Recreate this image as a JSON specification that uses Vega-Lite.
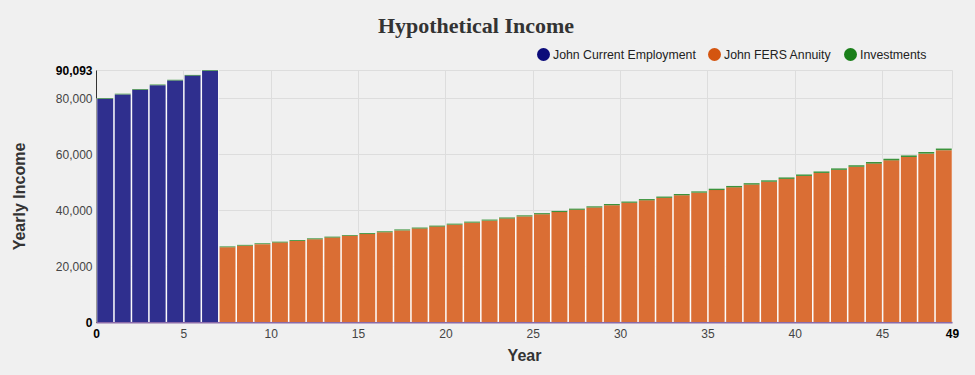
{
  "$schema": "https://vega.github.io/schema/vega-lite/v6.json",
  "width": 856,
  "height": 252,
  "autosize": {"type": "none"},
  "padding": {"left": 96, "top": 70, "right": 23, "bottom": 53},
  "background": "#f0f0f0",
  "config": {"view": {"stroke": null}},
  "title": {"text": "Hypothetical Income", "font": "Liberation Serif", "fontSize": 22, "fontWeight": "bold", "color": "#333333", "anchor": "middle", "frame": "group", "dx": -48, "offset": 10},
  "data": {"values": [
    {"year": 0, "end": 1, "series": "John Current Employment", "value": 79780, "k": 1},
    {"year": 0, "end": 1, "series": "Investments", "value": 250, "k": 3},
    {"year": 1, "end": 2, "series": "John Current Employment", "value": 81376, "k": 1},
    {"year": 1, "end": 2, "series": "Investments", "value": 250, "k": 3},
    {"year": 2, "end": 3, "series": "John Current Employment", "value": 83003, "k": 1},
    {"year": 2, "end": 3, "series": "Investments", "value": 250, "k": 3},
    {"year": 3, "end": 4, "series": "John Current Employment", "value": 84663, "k": 1},
    {"year": 3, "end": 4, "series": "Investments", "value": 250, "k": 3},
    {"year": 4, "end": 5, "series": "John Current Employment", "value": 86356, "k": 1},
    {"year": 4, "end": 5, "series": "Investments", "value": 250, "k": 3},
    {"year": 5, "end": 6, "series": "John Current Employment", "value": 88084, "k": 1},
    {"year": 5, "end": 6, "series": "Investments", "value": 250, "k": 3},
    {"year": 6, "end": 7, "series": "John Current Employment", "value": 89843, "k": 1},
    {"year": 6, "end": 7, "series": "Investments", "value": 250, "k": 3},
    {"year": 7, "end": 8, "series": "John FERS Annuity", "value": 26730, "k": 2},
    {"year": 7, "end": 8, "series": "Investments", "value": 300, "k": 3},
    {"year": 8, "end": 9, "series": "John FERS Annuity", "value": 27278, "k": 2},
    {"year": 8, "end": 9, "series": "Investments", "value": 305, "k": 3},
    {"year": 9, "end": 10, "series": "John FERS Annuity", "value": 27837, "k": 2},
    {"year": 9, "end": 10, "series": "Investments", "value": 310, "k": 3},
    {"year": 10, "end": 11, "series": "John FERS Annuity", "value": 28408, "k": 2},
    {"year": 10, "end": 11, "series": "Investments", "value": 315, "k": 3},
    {"year": 11, "end": 12, "series": "John FERS Annuity", "value": 28990, "k": 2},
    {"year": 11, "end": 12, "series": "Investments", "value": 320, "k": 3},
    {"year": 12, "end": 13, "series": "John FERS Annuity", "value": 29585, "k": 2},
    {"year": 12, "end": 13, "series": "Investments", "value": 326, "k": 3},
    {"year": 13, "end": 14, "series": "John FERS Annuity", "value": 30191, "k": 2},
    {"year": 13, "end": 14, "series": "Investments", "value": 331, "k": 3},
    {"year": 14, "end": 15, "series": "John FERS Annuity", "value": 30810, "k": 2},
    {"year": 14, "end": 15, "series": "Investments", "value": 337, "k": 3},
    {"year": 15, "end": 16, "series": "John FERS Annuity", "value": 31441, "k": 2},
    {"year": 15, "end": 16, "series": "Investments", "value": 343, "k": 3},
    {"year": 16, "end": 17, "series": "John FERS Annuity", "value": 32086, "k": 2},
    {"year": 16, "end": 17, "series": "Investments", "value": 349, "k": 3},
    {"year": 17, "end": 18, "series": "John FERS Annuity", "value": 32744, "k": 2},
    {"year": 17, "end": 18, "series": "Investments", "value": 355, "k": 3},
    {"year": 18, "end": 19, "series": "John FERS Annuity", "value": 33415, "k": 2},
    {"year": 18, "end": 19, "series": "Investments", "value": 361, "k": 3},
    {"year": 19, "end": 20, "series": "John FERS Annuity", "value": 34100, "k": 2},
    {"year": 19, "end": 20, "series": "Investments", "value": 367, "k": 3},
    {"year": 20, "end": 21, "series": "John FERS Annuity", "value": 34799, "k": 2},
    {"year": 20, "end": 21, "series": "Investments", "value": 373, "k": 3},
    {"year": 21, "end": 22, "series": "John FERS Annuity", "value": 35512, "k": 2},
    {"year": 21, "end": 22, "series": "Investments", "value": 380, "k": 3},
    {"year": 22, "end": 23, "series": "John FERS Annuity", "value": 36241, "k": 2},
    {"year": 22, "end": 23, "series": "Investments", "value": 386, "k": 3},
    {"year": 23, "end": 24, "series": "John FERS Annuity", "value": 36983, "k": 2},
    {"year": 23, "end": 24, "series": "Investments", "value": 393, "k": 3},
    {"year": 24, "end": 25, "series": "John FERS Annuity", "value": 37741, "k": 2},
    {"year": 24, "end": 25, "series": "Investments", "value": 400, "k": 3},
    {"year": 25, "end": 26, "series": "John FERS Annuity", "value": 38515, "k": 2},
    {"year": 25, "end": 26, "series": "Investments", "value": 406, "k": 3},
    {"year": 26, "end": 27, "series": "John FERS Annuity", "value": 39305, "k": 2},
    {"year": 26, "end": 27, "series": "Investments", "value": 413, "k": 3},
    {"year": 27, "end": 28, "series": "John FERS Annuity", "value": 40111, "k": 2},
    {"year": 27, "end": 28, "series": "Investments", "value": 420, "k": 3},
    {"year": 28, "end": 29, "series": "John FERS Annuity", "value": 40933, "k": 2},
    {"year": 28, "end": 29, "series": "Investments", "value": 428, "k": 3},
    {"year": 29, "end": 30, "series": "John FERS Annuity", "value": 41772, "k": 2},
    {"year": 29, "end": 30, "series": "Investments", "value": 435, "k": 3},
    {"year": 30, "end": 31, "series": "John FERS Annuity", "value": 42628, "k": 2},
    {"year": 30, "end": 31, "series": "Investments", "value": 442, "k": 3},
    {"year": 31, "end": 32, "series": "John FERS Annuity", "value": 43502, "k": 2},
    {"year": 31, "end": 32, "series": "Investments", "value": 450, "k": 3},
    {"year": 32, "end": 33, "series": "John FERS Annuity", "value": 44394, "k": 2},
    {"year": 32, "end": 33, "series": "Investments", "value": 458, "k": 3},
    {"year": 33, "end": 34, "series": "John FERS Annuity", "value": 45304, "k": 2},
    {"year": 33, "end": 34, "series": "Investments", "value": 466, "k": 3},
    {"year": 34, "end": 35, "series": "John FERS Annuity", "value": 46233, "k": 2},
    {"year": 34, "end": 35, "series": "Investments", "value": 474, "k": 3},
    {"year": 35, "end": 36, "series": "John FERS Annuity", "value": 47180, "k": 2},
    {"year": 35, "end": 36, "series": "Investments", "value": 482, "k": 3},
    {"year": 36, "end": 37, "series": "John FERS Annuity", "value": 48148, "k": 2},
    {"year": 36, "end": 37, "series": "Investments", "value": 490, "k": 3},
    {"year": 37, "end": 38, "series": "John FERS Annuity", "value": 49134, "k": 2},
    {"year": 37, "end": 38, "series": "Investments", "value": 499, "k": 3},
    {"year": 38, "end": 39, "series": "John FERS Annuity", "value": 50142, "k": 2},
    {"year": 38, "end": 39, "series": "Investments", "value": 507, "k": 3},
    {"year": 39, "end": 40, "series": "John FERS Annuity", "value": 51170, "k": 2},
    {"year": 39, "end": 40, "series": "Investments", "value": 516, "k": 3},
    {"year": 40, "end": 41, "series": "John FERS Annuity", "value": 52219, "k": 2},
    {"year": 40, "end": 41, "series": "Investments", "value": 525, "k": 3},
    {"year": 41, "end": 42, "series": "John FERS Annuity", "value": 53289, "k": 2},
    {"year": 41, "end": 42, "series": "Investments", "value": 534, "k": 3},
    {"year": 42, "end": 43, "series": "John FERS Annuity", "value": 54382, "k": 2},
    {"year": 42, "end": 43, "series": "Investments", "value": 543, "k": 3},
    {"year": 43, "end": 44, "series": "John FERS Annuity", "value": 55497, "k": 2},
    {"year": 43, "end": 44, "series": "Investments", "value": 552, "k": 3},
    {"year": 44, "end": 45, "series": "John FERS Annuity", "value": 56634, "k": 2},
    {"year": 44, "end": 45, "series": "Investments", "value": 562, "k": 3},
    {"year": 45, "end": 46, "series": "John FERS Annuity", "value": 57795, "k": 2},
    {"year": 45, "end": 46, "series": "Investments", "value": 572, "k": 3},
    {"year": 46, "end": 47, "series": "John FERS Annuity", "value": 58980, "k": 2},
    {"year": 46, "end": 47, "series": "Investments", "value": 581, "k": 3},
    {"year": 47, "end": 48, "series": "John FERS Annuity", "value": 60189, "k": 2},
    {"year": 47, "end": 48, "series": "Investments", "value": 591, "k": 3},
    {"year": 48, "end": 49, "series": "John FERS Annuity", "value": 61423, "k": 2},
    {"year": 48, "end": 49, "series": "Investments", "value": 600, "k": 3}
  ]},
  "encoding": {
    "x": {
      "field": "year", "type": "quantitative", "bin": "binned",
      "scale": {"domain": [0, 49], "nice": false},
      "axis": {
        "values": [0, 5, 10, 15, 20, 25, 30, 35, 40, 45, 49],
        "format": "d",
        "title": "Year",
        "titleFont": "Liberation Sans", "titleFontSize": 16, "titleFontWeight": "bold", "titleColor": "#333333", "titlePadding": 8,
        "labelFont": "Liberation Sans", "labelFontSize": 12, "labelPadding": 6, "labelFlush": false,
        "labelColor": {"condition": {"test": "datum.value == 0 || datum.value == 49", "value": "#000000"}, "value": "#444444"},
        "labelFontWeight": {"condition": {"test": "datum.value == 0 || datum.value == 49", "value": "bold"}, "value": "normal"},
        "ticks": false,
        "grid": true, "gridColor": "#dddddd",
        "domain": true, "domainColor": "#8a6aa8", "domainWidth": 2
      }
    },
    "x2": {"field": "end"}
  },
  "layer": [
    {
      "mark": {"type": "bar", "color": "#ffffff", "binSpacing": 0},
      "encoding": {
        "y": {
          "aggregate": "sum", "field": "value", "type": "quantitative",
          "scale": {"domain": [0, 90093], "nice": false},
          "axis": {
            "values": [0, 20000, 40000, 60000, 80000, 90093],
            "format": ",d",
            "title": "Yearly Income",
            "titleFont": "Liberation Sans", "titleFontSize": 16, "titleFontWeight": "bold", "titleColor": "#333333", "titlePadding": 28,
            "labelFont": "Liberation Sans", "labelFontSize": 12, "labelPadding": 4,
            "labelColor": {"condition": {"test": "datum.value == 0 || datum.value == 90093", "value": "#000000"}, "value": "#444444"},
            "labelFontWeight": {"condition": {"test": "datum.value == 0 || datum.value == 90093", "value": "bold"}, "value": "normal"},
            "ticks": false,
            "grid": true, "gridColor": "#dddddd",
            "domain": true, "domainColor": "#333333", "domainWidth": 1
          }
        }
      }
    },
    {
      "mark": {"type": "bar", "opacity": 0.85, "binSpacing": 1.5},
      "encoding": {
        "y": {
          "field": "value", "type": "quantitative", "stack": "zero",
          "scale": {"domain": [0, 90093], "nice": false},
          "axis": {
            "values": [0, 20000, 40000, 60000, 80000, 90093],
            "format": ",d",
            "title": "Yearly Income",
            "titleFont": "Liberation Sans", "titleFontSize": 16, "titleFontWeight": "bold", "titleColor": "#333333", "titlePadding": 28,
            "labelFont": "Liberation Sans", "labelFontSize": 12, "labelPadding": 4,
            "labelColor": {"condition": {"test": "datum.value == 0 || datum.value == 90093", "value": "#000000"}, "value": "#444444"},
            "labelFontWeight": {"condition": {"test": "datum.value == 0 || datum.value == 90093", "value": "bold"}, "value": "normal"},
            "ticks": false,
            "grid": true, "gridColor": "#dddddd",
            "domain": true, "domainColor": "#333333", "domainWidth": 1
          }
        },
        "color": {
          "field": "series", "type": "nominal",
          "scale": {"domain": ["John Current Employment", "John FERS Annuity", "Investments"], "range": ["#0b0b7a", "#d45510", "#1a7f1a"]},
          "legend": {
            "orient": "none", "legendX": 441, "legendY": -22, "direction": "horizontal", "columns": 3,
            "title": null, "symbolType": "circle", "symbolSize": 169, "symbolOpacity": 1, "symbolStrokeWidth": 0,
            "labelFont": "Liberation Sans", "labelFontSize": 12.3, "labelColor": "#222222",
            "columnPadding": 12, "labelOffset": 3, "padding": 0
          }
        },
        "order": {"field": "k", "type": "quantitative"}
      }
    }
  ]
}
